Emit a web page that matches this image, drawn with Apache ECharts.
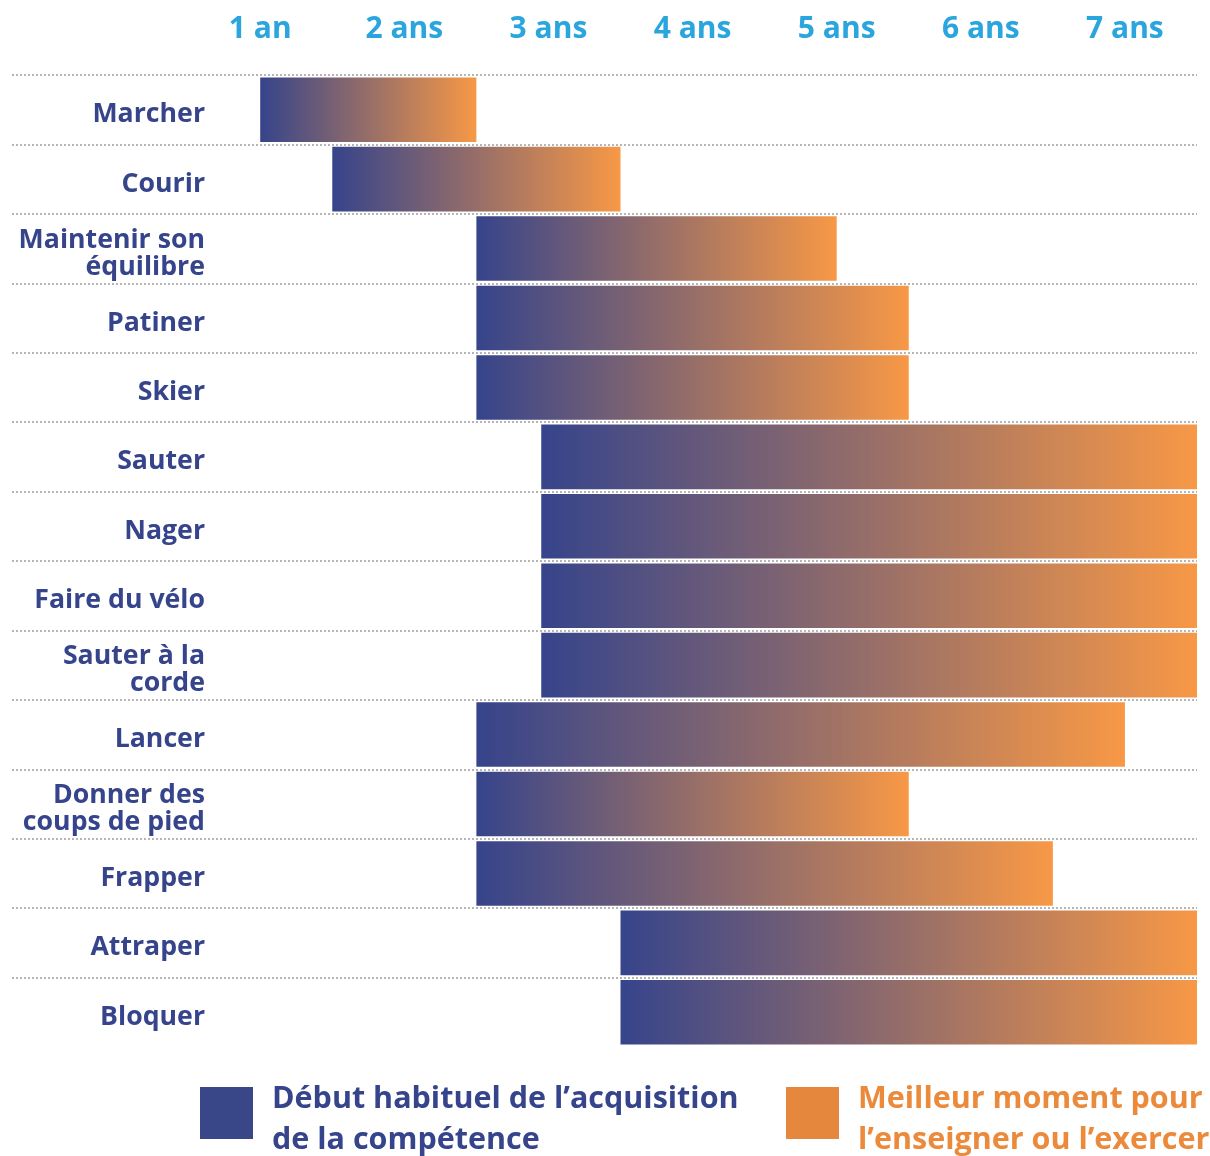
<!DOCTYPE html>
<html>
<head>
<meta charset="utf-8">
<title>Acquisition des compétences</title>
<script src="https://cdn.jsdelivr.net/npm/echarts@6/dist/echarts.min.js"></script>
<style>
    html, body { margin: 0; padding: 0; background: #fff; }
    #chart { width: 1210px; height: 1156px; }
</style>
</head>
<body>
<div id="chart"></div>
<script>
    // compétences, de haut en bas
    var skills = ['Marcher', 'Courir', 'Maintenir son\néquilibre', 'Patiner', 'Skier', 'Sauter', 'Nager',
        'Faire du vélo', 'Sauter à la\ncorde', 'Lancer', 'Donner des\ncoups de pied', 'Frapper', 'Attraper', 'Bloquer'];
    // âge (en années) du début et de la fin de chaque barre
    var startAge = [1, 1.5, 2.5, 2.5, 2.5, 2.95, 2.95, 2.95, 2.95, 2.5, 2.5, 2.5, 3.5, 3.5];
    var endAge = [2.5, 3.5, 5, 5.5, 5.5, 7.5, 7.5, 7.5, 7.5, 7, 5.5, 6.5, 7.5, 7.5];
    var yearTicks = [1, 2, 3, 4, 5, 6, 7];
    var yearLabels = ['1 an', '2 ans', '3 ans', '4 ans', '5 ans', '6 ans', '7 ans'];
    var legendTexts = ['Début habituel de l\u2019acquisition\nde la compétence', 'Meilleur moment pour\nl\u2019enseigner ou l\u2019exercer'];

    var blue = '#36448b';
    var orange = '#f79846';
    var font = '"Open Sans", "DejaVu Sans", sans-serif';

    var chart = echarts.init(document.getElementById('chart'));

    var spans = endAge.map(function (e, i) { return +(e - startAge[i]).toFixed(3); });

    chart.setOption({
        animation: false,
        grid: [
            { left: 12, right: 13, top: 75, bottom: 109 },
            // grille des étiquettes, un peu plus bas
            { left: 12, right: 13, top: 80, bottom: 104 }
        ],
        xAxis: [
            {
                type: 'value',
                gridIndex: 0,
                position: 'top',
                min: -0.7222,
                max: 7.5,
                axisLine: { show: false },
                axisTick: { show: false },
                splitLine: { show: false },
                axisLabel: {
                    customValues: yearTicks,
                    margin: 31,
                    color: '#2aa5dd',
                    fontFamily: font,
                    fontWeight: 'bold',
                    fontSize: 30,
                    formatter: function (v) {
                        return yearLabels[yearTicks.indexOf(v)];
                    }
                }
            },
            { type: 'value', gridIndex: 1, show: false }
        ],
        yAxis: [
            {
                type: 'category',
                gridIndex: 0,
                inverse: true,
                data: skills,
                axisLine: { show: false },
                axisTick: { show: false },
                axisLabel: { show: false },
                splitLine: {
                    show: true,
                    showMinLine: true,
                    showMaxLine: false,
                    lineStyle: {
                        color: '#b5b5b5',
                        width: 2,
                        type: [2, 2]
                    }
                }
            },
            {
                type: 'category',
                gridIndex: 1,
                inverse: true,
                data: skills,
                offset: -193,
                axisLine: { show: false },
                axisTick: { show: false },
                splitLine: { show: false },
                axisLabel: {
                    margin: 0,
                    color: '#36458b',
                    fontFamily: font,
                    fontWeight: 'bold',
                    fontSize: 26.7,
                    lineHeight: 27,
                    align: 'right'
                }
            }
        ],
        series: [
            {
                name: 'base',
                type: 'bar',
                stack: 'age',
                silent: true,
                barWidth: '93%',
                itemStyle: { color: 'transparent' },
                data: startAge
            },
            {
                name: 'durée',
                type: 'bar',
                stack: 'age',
                barWidth: '93%',
                itemStyle: {
                    color: new echarts.graphic.LinearGradient(0, 0, 1, 0, [
                        { offset: 0, color: blue },
                        { offset: 1, color: orange }
                    ])
                },
                data: spans
            }
        ],
        graphic: [
            {
                type: 'rect',
                shape: { x: 200, y: 1087, width: 53, height: 52 },
                style: { fill: '#394789' }
            },
            {
                type: 'text',
                x: 272,
                y: 1079,
                style: {
                    text: legendTexts[0],
                    fill: '#36458b',
                    font: 'bold 30.5px ' + font,
                    lineHeight: 41,
                    verticalAlign: 'top'
                }
            },
            {
                type: 'rect',
                shape: { x: 786, y: 1087, width: 53, height: 52 },
                style: { fill: '#e5883e' }
            },
            {
                type: 'text',
                x: 858,
                y: 1079,
                style: {
                    text: legendTexts[1],
                    fill: '#ec8a3c',
                    font: 'bold 30.5px ' + font,
                    lineHeight: 41,
                    verticalAlign: 'top'
                }
            }
        ]
    });
</script>
</body>
</html>
